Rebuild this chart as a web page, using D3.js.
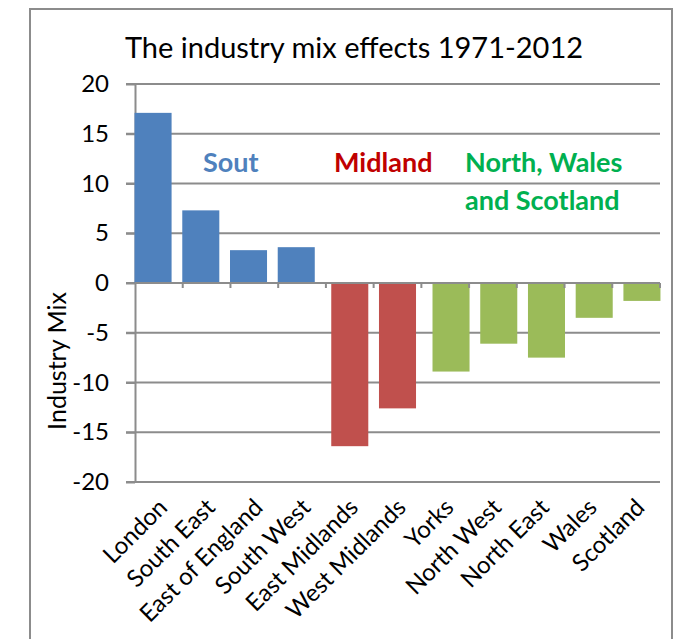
<!DOCTYPE html>
<html>
<head>
<meta charset="utf-8">
<script src="https://cdn.jsdelivr.net/npm/d3@7"></script>
<style>
    body { margin: 0; background: #fff; }
    text { font-family: Lato, "Open Sans", sans-serif; }
</style>
</head>
<body>
<script>
// data
const regions = ["London", "South East", "East of England", "South West", "East Midlands",
    "West Midlands", "Yorks", "North West", "North East", "Wales", "Scotland"];
const industryMix = [17.1, 7.3, 3.3, 3.6, -16.4, -12.6, -8.9, -6.1, -7.5, -3.5, -1.8];
const regionGroup = ["South", "South", "South", "South", "Midland", "Midland",
    "North", "North", "North", "North", "North"];
const groups = ["South", "Midland", "North"];
const groupColors = ["#4F81BD", "#C0504D", "#9BBB59"];
const groupLabels = [["Sout"], ["Midland"], ["North, Wales", "and Scotland"]];
const groupLabelColors = ["#4F81BD", "#C00000", "#00B050"];
const yTicks = [20, 15, 10, 5, 0, -5, -10, -15, -20];

const W = 677, H = 639;
const margin = { top: 84, left: 135, right: 17, bottom: 157 };
const width = W - margin.left - margin.right;
const height = H - margin.top - margin.bottom;
const gridColor = "#8c8c8c";

const svg = d3.select("body").append("svg")
    .attr("width", W)
    .attr("height", H);

// chart border (bottom edge runs off the picture)
svg.append("rect")
    .attr("x", 30).attr("y", 9)
    .attr("width", 642).attr("height", 700)
    .attr("fill", "none")
    .attr("stroke", gridColor)
    .attr("stroke-width", 2);

svg.append("text")
    .attr("x", 354).attr("y", 58)
    .attr("text-anchor", "middle")
    .style("font-size", "29px")
    .attr("fill", "#000")
    .text("The industry mix effects 1971-2012");

const g = svg.append("g")
    .attr("transform", `translate(${margin.left}, ${margin.top})`);

const y = d3.scaleLinear()
    .domain([-20, 20])
    .range([height, 0]);

const x = d3.scaleBand()
    .domain(regions)
    .range([0, width])
    .paddingInner(0.224)
    .paddingOuter(0.112);

// each group sits a little off the category centre, like Excel's overlapped series
const shift = d3.scalePoint()
    .domain(groups)
    .range([-5.8, 5.8]);

const color = d3.scaleOrdinal().domain(groups).range(groupColors);

// gridlines
g.selectAll(".grid")
    .data(yTicks)
    .enter()
    .append("line")
    .attr("x1", -9)
    .attr("x2", width)
    .attr("y1", d => y(d))
    .attr("y2", d => y(d))
    .attr("stroke", gridColor)
    .attr("stroke-width", 2);

// y axis (plain hyphen for negatives, as in the original)
const yAxis = g.append("g")
    .call(d3.axisLeft(y).tickValues(yTicks).tickFormat(d => String(d))
        .tickSize(9).tickSizeOuter(0).tickPadding(17));
yAxis.select(".domain").attr("stroke", gridColor).attr("stroke-width", 2);
yAxis.selectAll(".tick line").attr("stroke", gridColor).attr("stroke-width", 2);
yAxis.selectAll("text")
    .style("font-size", "24px")
    .attr("fill", "#000")
    .attr("font-family", "Lato, 'Open Sans', sans-serif");

// bars
const bars = regions.map((r, i) => ({ region: r, value: industryMix[i], group: regionGroup[i] }));
g.selectAll("rect.bar")
    .data(bars)
    .enter()
    .append("rect")
    .attr("class", "bar")
    .attr("x", d => x(d.region) + shift(d.group))
    .attr("y", d => y(Math.max(0, d.value)))
    .attr("width", x.bandwidth())
    .attr("height", d => Math.abs(y(d.value) - y(0)))
    .attr("fill", d => color(d.group));

// zero line with category ticks
g.append("line")
    .attr("x1", 0).attr("x2", width)
    .attr("y1", y(0)).attr("y2", y(0))
    .attr("stroke", gridColor)
    .attr("stroke-width", 2);
g.selectAll(".xtick")
    .data(regions)
    .enter()
    .append("line")
    .attr("x1", d => x(d) - x.step() * 0.112 + x.step())
    .attr("x2", d => x(d) - x.step() * 0.112 + x.step())
    .attr("y1", y(0))
    .attr("y2", y(0) + 5)
    .attr("stroke", gridColor)
    .attr("stroke-width", 2);

// category labels
g.selectAll(".xlabel")
    .data(regions)
    .enter()
    .append("text")
    .attr("transform", d => `translate(${x(d) + x.bandwidth() / 2 + 4}, ${height + 21}) rotate(-45)`)
    .attr("text-anchor", "end")
    .attr("dy", "0.35em")
    .style("font-size", "24px")
    .attr("fill", "#000")
    .text(d => d);

// y axis title
svg.append("text")
    .attr("transform", "translate(66, 361) rotate(-90)")
    .attr("text-anchor", "middle")
    .style("font-size", "25px")
    .attr("fill", "#000")
    .text("Industry Mix");

// group annotations
const labelPos = [[203, 172], [334, 172], [465, 172]];
groupLabels.forEach((lines, i) => {
    const t = svg.append("text")
        .attr("x", labelPos[i][0])
        .attr("y", labelPos[i][1])
        .attr("fill", groupLabelColors[i])
        .style("font-size", "27px")
        .style("font-weight", "bold");
    lines.forEach((line, j) => {
        t.append("tspan")
            .attr("x", labelPos[i][0])
            .attr("dy", j === 0 ? 0 : 38)
            .text(line);
    });
});
</script>
</body>
</html>
